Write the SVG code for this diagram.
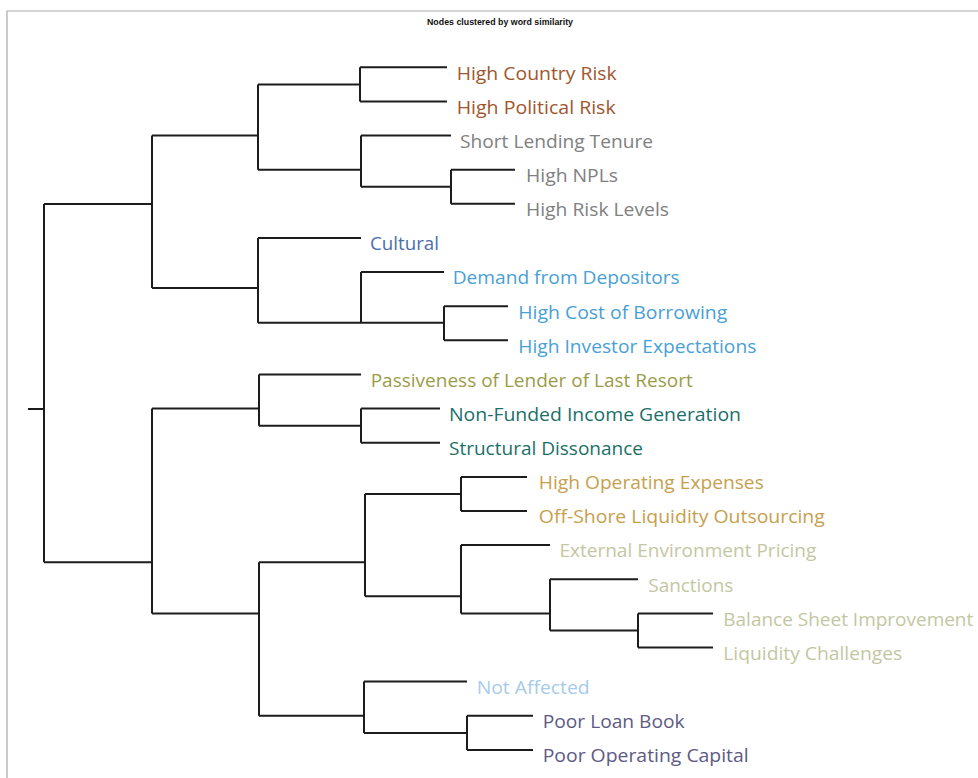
<svg xmlns="http://www.w3.org/2000/svg" width="978" height="778" viewBox="0 0 978 778">
<style>
.t{font-family:"Open Sans","Noto Sans","Liberation Sans",sans-serif;font-size:19px;lengthAdjust:spacingAndGlyphs}
.br{fill:#a0562c}.gy{fill:#808080}.db{fill:#4b6ead}.lb{fill:#4a9fd6}.ol{fill:#9b9c48}.tl{fill:#1c6f68}
.gd{fill:#c6a04e}.pl{fill:#c3c7a2}.sk{fill:#a6cbe8}.pu{fill:#5d5a84}
.e{fill:none;stroke:#1c1c1c;stroke-width:2}
.title{font-family:"Liberation Sans",Arial,sans-serif;font-size:8.5px;font-weight:bold;fill:#111}
</style>
<rect width="978" height="778" fill="#ffffff"/>
<path d="M7 778 V11 H978" fill="none" stroke="#a8a8a8" stroke-width="1.2"/>
<text class="title" x="427" y="25" textLength="146" lengthAdjust="spacingAndGlyphs">Nodes clustered by word similarity</text>
<g id="connectors" class="e">
<path class="e" d="M28 409 H44 M44 204 V562.2"/>
<path class="e" d="M44 204 H152 M152 135.6 V288"/>
<path class="e" d="M152 135.6 H258 M258 84.4 V169.7"/>
<path class="e" d="M258 84.4 H360 M360 67.3 V101.4 M360 67.3 H447 M360 101.4 H447"/>
<path class="e" d="M258 169.7 H361 M361 135.6 V186.8 M361 135.6 H451 M361 186.8 H451 M451 169.7 V203.8 M451 169.7 H515 M451 203.8 H515"/>
<path class="e" d="M152 288 H258 M258 238 V322.7 M258 238 H361 M258 322.7 H361 M361 272.1 V322.7 M361 272.1 H444 M361 322.7 H444 M444 306.2 V340.3 M444 306.2 H508 M444 340.3 H508"/>
<path class="e" d="M44 562.2 H152 M152 408.6 V613.4"/>
<path class="e" d="M152 408.6 H259 M259 374.5 V425.7 M259 374.5 H361 M259 425.7 H361 M361 408.6 V442.7 M361 408.6 H440 M361 442.7 H440"/>
<path class="e" d="M152 613.4 H259 M259 562.2 V715.8"/>
<path class="e" d="M259 562.2 H365 M365 493.9 V596.2 M365 493.9 H461 M461 476.9 V511 M461 476.9 H527 M461 511 H527"/>
<path class="e" d="M365 596.2 H461 M461 545.1 V613.4 M461 545.1 H550 M461 613.4 H550 M550 579.3 V630.5 M550 579.3 H638 M550 630.5 H638 M638 613.4 V647.5 M638 613.4 H713 M638 647.5 H713"/>
<path class="e" d="M259 715.8 H364 M364 681.6 V732.9 M364 681.6 H467 M364 732.9 H467 M467 715.8 V749.9 M467 715.8 H533 M467 749.9 H533"/>
</g>
<g id="n-high-country-risk"><text class="t br" x="456.7" y="79.6" textLength="160" lengthAdjust="spacingAndGlyphs">High Country Risk</text></g>
<g id="n-high-political-risk"><text class="t br" x="456.7" y="113.7" textLength="159" lengthAdjust="spacingAndGlyphs">High Political Risk</text></g>
<g id="n-short-lending-tenure"><text class="t gy" x="460" y="147.9" textLength="193" lengthAdjust="spacingAndGlyphs">Short Lending Tenure</text></g>
<g id="n-high-npls"><text class="t gy" x="526" y="182" textLength="92" lengthAdjust="spacingAndGlyphs">High NPLs</text></g>
<g id="n-high-risk-levels"><text class="t gy" x="526" y="216.1" textLength="143" lengthAdjust="spacingAndGlyphs">High Risk Levels</text></g>
<g id="n-cultural"><text class="t db" x="370" y="250.3" textLength="69" lengthAdjust="spacingAndGlyphs">Cultural</text></g>
<g id="n-demand-from-depositors"><text class="t lb" x="452.7" y="284.4" textLength="227" lengthAdjust="spacingAndGlyphs">Demand from Depositors</text></g>
<g id="n-high-cost-of-borrowing"><text class="t lb" x="518.3" y="318.5" textLength="209" lengthAdjust="spacingAndGlyphs">High Cost of Borrowing</text></g>
<g id="n-high-investor-expectations"><text class="t lb" x="518.3" y="352.6" textLength="238" lengthAdjust="spacingAndGlyphs">High Investor Expectations</text></g>
<g id="n-passiveness"><text class="t ol" x="370.7" y="386.8" textLength="322" lengthAdjust="spacingAndGlyphs">Passiveness of Lender of Last Resort</text></g>
<g id="n-non-funded-income-generation"><text class="t tl" x="449" y="420.9" textLength="292" lengthAdjust="spacingAndGlyphs">Non-Funded Income Generation</text></g>
<g id="n-structural-dissonance"><text class="t tl" x="449" y="455" textLength="194" lengthAdjust="spacingAndGlyphs">Structural Dissonance</text></g>
<g id="n-high-operating-expenses"><text class="t gd" x="538.8" y="489.2" textLength="225" lengthAdjust="spacingAndGlyphs">High Operating Expenses</text></g>
<g id="n-off-shore-liquidity-outsourcing"><text class="t gd" x="538.8" y="523.3" textLength="286" lengthAdjust="spacingAndGlyphs">Off-Shore Liquidity Outsourcing</text></g>
<g id="n-external-environment-pricing"><text class="t pl" x="559.4" y="557.4" textLength="257" lengthAdjust="spacingAndGlyphs">External Environment Pricing</text></g>
<g id="n-sanctions"><text class="t pl" x="648.3" y="591.6" textLength="85" lengthAdjust="spacingAndGlyphs">Sanctions</text></g>
<g id="n-balance-sheet-improvement"><text class="t pl" x="723.3" y="625.7" textLength="250" lengthAdjust="spacingAndGlyphs">Balance Sheet Improvement</text></g>
<g id="n-liquidity-challenges"><text class="t pl" x="723.3" y="659.8" textLength="179" lengthAdjust="spacingAndGlyphs">Liquidity Challenges</text></g>
<g id="n-not-affected"><text class="t sk" x="476.7" y="693.9" textLength="113" lengthAdjust="spacingAndGlyphs">Not Affected</text></g>
<g id="n-poor-loan-book"><text class="t pu" x="542.7" y="728.1" textLength="142" lengthAdjust="spacingAndGlyphs">Poor Loan Book</text></g>
<g id="n-poor-operating-capital"><text class="t pu" x="542.7" y="762.2" textLength="206" lengthAdjust="spacingAndGlyphs">Poor Operating Capital</text></g>
</svg>
